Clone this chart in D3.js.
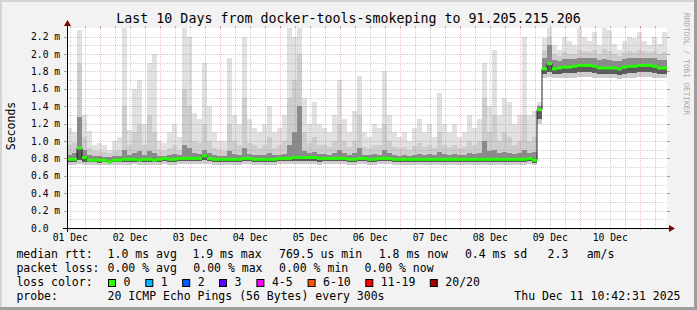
<!DOCTYPE html>
<html><head><meta charset="utf-8">
<script src="https://cdn.jsdelivr.net/npm/d3@7"></script>
<style>
html,body{margin:0;padding:0;background:#f2f2f2}
svg{display:block}
text{font-family:"DejaVu Sans Mono",monospace}
</style>
</head><body>
<svg id="c" width="697" height="310"></svg>
<script>
// ---------------- data ----------------
const chartTitle = "Last 10 Days from docker-tools-smokeping to 91.205.215.206";
const yAxisTitle = "Seconds";
const startTime = Date.UTC(2025, 11, 1, 10, 42, 31);
const endTime = Date.UTC(2025, 11, 11, 10, 42, 31);
const stepHours = 2;

// median round trip time per 2h step (ms)
const medianMs = [
  0.79,0.79,0.92,0.81,0.78,0.78,0.78,0.78,0.76,0.78,
  0.78,0.79,0.79,0.79,0.78,0.79,0.79,0.78,0.79,0.80,
  0.79,0.79,0.80,0.80,0.80,0.80,0.80,0.83,0.80,0.79,
  0.79,0.79,0.79,0.79,0.79,0.80,0.80,0.79,0.79,0.79,
  0.79,0.79,0.80,0.80,0.80,0.81,0.81,0.81,0.81,0.81,
  0.80,0.80,0.80,0.80,0.80,0.80,0.79,0.79,0.80,0.80,
  0.79,0.79,0.80,0.80,0.80,0.79,0.79,0.79,0.79,0.79,
  0.79,0.79,0.79,0.79,0.79,0.79,0.79,0.79,0.79,0.79,
  0.79,0.79,0.79,0.79,0.79,0.79,0.79,0.79,0.79,0.79,
  0.79,0.79,0.80,0.78,1.36,1.83,1.89,1.83,1.84,1.85,
  1.85,1.86,1.87,1.87,1.87,1.86,1.84,1.84,1.84,1.84,
  1.83,1.85,1.86,1.86,1.87,1.87,1.87,1.86,1.84,1.84
];
// smoke envelope (ms)
const smokeMin = [
  0.73,0.73,0.74,0.73,0.73,0.72,0.73,0.73,0.72,0.73,
  0.73,0.73,0.73,0.74,0.73,0.73,0.73,0.72,0.73,0.74,
  0.73,0.73,0.74,0.74,0.74,0.74,0.74,0.74,0.74,0.73,
  0.73,0.73,0.73,0.73,0.73,0.74,0.74,0.73,0.73,0.73,
  0.73,0.73,0.74,0.74,0.74,0.74,0.74,0.74,0.74,0.74,
  0.72,0.74,0.74,0.74,0.74,0.74,0.73,0.73,0.74,0.74,
  0.73,0.73,0.74,0.74,0.74,0.73,0.73,0.73,0.73,0.73,
  0.73,0.73,0.73,0.73,0.73,0.73,0.73,0.73,0.73,0.73,
  0.73,0.73,0.73,0.73,0.73,0.73,0.73,0.73,0.73,0.73,
  0.73,0.73,0.74,0.73,1.20,1.72,1.74,1.72,1.72,1.73,
  1.73,1.73,1.74,1.74,1.74,1.73,1.72,1.72,1.72,1.72,
  1.71,1.72,1.73,1.73,1.74,1.74,1.74,1.73,1.72,1.72
];
const smokeQ1 = [
  0.76,0.76,0.78,0.76,0.76,0.76,0.75,0.76,0.75,0.76,
  0.76,0.76,0.76,0.76,0.76,0.76,0.76,0.76,0.76,0.77,
  0.76,0.76,0.77,0.77,0.77,0.77,0.77,0.78,0.77,0.76,
  0.76,0.76,0.76,0.76,0.76,0.77,0.77,0.76,0.76,0.76,
  0.76,0.76,0.77,0.77,0.77,0.77,0.77,0.77,0.77,0.77,
  0.76,0.77,0.77,0.77,0.77,0.77,0.76,0.76,0.77,0.77,
  0.76,0.76,0.77,0.77,0.77,0.76,0.76,0.76,0.76,0.76,
  0.76,0.76,0.76,0.76,0.76,0.76,0.76,0.76,0.76,0.76,
  0.76,0.76,0.76,0.76,0.76,0.76,0.76,0.76,0.76,0.76,
  0.76,0.76,0.77,0.75,1.25,1.77,1.79,1.77,1.77,1.78,
  1.78,1.78,1.79,1.79,1.79,1.78,1.77,1.77,1.77,1.77,
  1.76,1.77,1.78,1.78,1.79,1.79,1.79,1.78,1.77,1.77
];
const smokeQ3 = [
  0.84,0.86,1.28,0.90,0.84,0.83,0.83,0.82,0.82,0.83,
  0.83,0.90,0.84,0.86,0.88,0.84,0.88,0.86,0.83,0.83,
  0.84,0.85,0.84,0.95,0.92,0.86,0.85,0.90,0.86,0.84,
  0.83,0.83,0.88,0.85,0.84,0.92,0.85,0.84,0.84,0.84,
  0.86,0.84,0.84,0.85,0.95,1.10,1.40,0.88,0.86,0.87,
  0.85,0.85,0.84,0.86,0.90,0.86,0.84,0.86,0.92,0.84,
  0.84,0.85,0.84,0.90,0.86,0.84,0.83,0.84,0.83,0.84,
  0.85,0.84,0.85,0.84,0.87,0.85,0.84,0.85,0.84,0.84,
  0.86,0.85,0.86,1.00,0.88,0.90,0.86,0.87,0.86,0.85,
  0.86,0.90,0.86,0.87,1.40,1.95,2.10,1.93,1.92,1.94,
  1.94,1.94,1.96,1.96,1.95,1.96,1.93,1.94,1.93,1.92,
  1.92,1.94,1.95,1.95,1.96,1.96,1.95,1.95,1.93,1.93
];
const smokeP90 = [
  0.95,0.98,1.90,1.05,0.92,0.88,0.88,0.87,0.86,0.88,
  0.90,1.40,0.95,1.10,1.20,0.95,1.30,1.10,0.90,0.89,
  0.92,0.95,0.90,1.60,1.40,1.00,0.98,1.20,1.00,0.92,
  0.90,0.89,1.20,1.00,0.95,1.50,0.98,0.95,0.92,0.95,
  1.05,0.92,0.95,1.00,1.50,1.70,2.00,1.10,0.98,1.05,
  0.96,0.95,0.93,1.00,1.20,1.00,0.93,1.00,1.30,0.93,
  0.92,0.95,0.95,1.20,1.00,0.93,0.92,0.93,0.90,0.94,
  0.98,0.93,0.95,0.92,1.10,0.95,0.93,0.96,0.92,0.93,
  1.00,0.95,1.00,1.50,1.10,1.30,1.00,1.10,1.05,0.95,
  1.00,1.30,1.00,1.05,1.42,2.05,2.20,2.00,1.98,2.02,
  2.00,2.00,2.05,2.04,2.02,2.05,2.00,2.06,2.04,2.00,
  1.98,2.02,2.03,2.02,2.05,2.03,2.02,2.03,2.00,2.02
];
const smokeMax = [
  1.15,1.10,2.28,1.30,1.12,0.95,0.98,0.95,0.90,1.00,
  1.05,2.30,1.13,1.60,1.70,1.20,1.90,2.00,1.00,0.98,
  1.10,1.20,1.05,2.30,2.20,1.32,1.25,1.90,1.40,1.10,
  1.00,1.00,1.95,1.30,1.20,2.20,1.25,1.15,1.10,1.20,
  1.40,1.10,1.15,1.30,2.30,2.20,2.30,1.50,1.20,1.45,
  1.20,1.15,1.10,1.30,1.70,1.25,1.10,1.35,1.75,1.10,
  1.05,1.20,1.15,1.80,1.30,1.10,1.05,1.10,1.00,1.15,
  1.25,1.10,1.20,1.05,1.55,1.20,1.10,1.20,1.05,1.10,
  1.30,1.15,1.25,1.90,1.40,2.05,1.30,1.50,1.45,1.20,
  1.30,2.20,1.30,1.35,1.45,2.18,2.30,2.10,2.05,2.20,
  2.15,2.10,2.30,2.20,2.15,2.25,2.10,2.30,2.28,2.12,
  2.05,2.15,2.20,2.18,2.25,2.15,2.10,2.20,2.12,2.25
];

const yTickValues = [0, 0.2, 0.4, 0.6, 0.8, 1.0, 1.2, 1.4, 1.6, 1.8, 2.0, 2.2];
const yTickLabels = ["0.0", "0.2 m", "0.4 m", "0.6 m", "0.8 m", "1.0 m", "1.2 m", "1.4 m", "1.6 m", "1.8 m", "2.0 m", "2.2 m"];
const xTickDays = ["2025-12-01","2025-12-02","2025-12-03","2025-12-04","2025-12-05","2025-12-06","2025-12-07","2025-12-08","2025-12-09","2025-12-10"];
const xTickLabels = ["01 Dec","02 Dec","03 Dec","04 Dec","05 Dec","06 Dec","07 Dec","08 Dec","09 Dec","10 Dec"];

const rttLabel = "median rtt:";
const rttStats = ["1.0 ms avg", "1.9 ms max", "769.5 us min", "1.8 ms now", "0.4 ms sd", "2.3", "am/s"];
const lossLabel = "packet loss:";
const lossStats = ["0.00 % avg", "0.00 % max", "0.00 % min", "0.00 % now"];
const lossColorLabel = "loss color:";
const lossBuckets = ["0", "1", "2", "3", "4-5", "6-10", "11-19", "20/20"];
const lossColors = ["#26ff00", "#00b8ff", "#0059ff", "#5e00ff", "#ff00ff", "#ff5500", "#ff0000", "#a00000"];
const probeLabel = "probe:";
const probeText = "20 ICMP Echo Pings (56 Bytes) every 300s";
const stampText = "Thu Dec 11 10:42:31 2025";
const watermark = "RRDTOOL / TOBI OETIKER";

// ---------------- layout ----------------
const W = 697, H = 310;
const X0 = 67, X1 = 667, Y0 = 228, Y1 = 28;
const rttX = [107.6, 192.4, 279, 378.7, 464.9, 547.6, 586.7];
const lossX = [107.6, 193.3, 279, 364.4];
const boxX = [108, 145.3, 182.2, 219, 256.4, 307.6, 365.3, 429.8];
const rowY = [258.3, 272, 285.8, 299.6];

const svg = d3.select("#c");
const x = d3.scaleUtc().domain([startTime, endTime]).range([X0, X1]);
const y = d3.scaleLinear().domain([0, 2.3]).range([Y0, Y1]);

// background + 3d border
svg.append("rect").attr("width", W).attr("height", H).attr("fill", "#f2f2f2");
svg.append("rect").attr("x", 0).attr("y", 0).attr("width", W).attr("height", 2).attr("fill", "#d4d4d4");
svg.append("rect").attr("x", 0).attr("y", 0).attr("width", 2).attr("height", H).attr("fill", "#d4d4d4");
svg.append("rect").attr("x", W - 3).attr("y", 0).attr("width", 3).attr("height", H).attr("fill", "#9e9e9e");
svg.append("rect").attr("x", 0).attr("y", H - 3).attr("width", W).attr("height", 3).attr("fill", "#9e9e9e");

// plot canvas
svg.append("rect").attr("x", X0).attr("y", Y1).attr("width", X1 - X0).attr("height", Y0 - Y1).attr("fill", "#fff");

const steps = medianMs.map((m, i) => ({
  t0: startTime + i * stepHours * 3600e3,
  t1: startTime + (i + 1) * stepHours * 3600e3,
  med: m, min: smokeMin[i], q1: smokeQ1[i], q3: smokeQ3[i], p90: smokeP90[i], max: smokeMax[i]
}));

const smoke = svg.append("g").attr("shape-rendering", "crispEdges");
function band(lo, hi, color) {
  smoke.append("g").selectAll("rect").data(steps).join("rect")
    .attr("x", d => Math.round(x(d.t0)))
    .attr("width", d => Math.round(x(d.t1)) - Math.round(x(d.t0)))
    .attr("y", d => Math.round(y(d[hi])))
    .attr("height", d => Math.max(0, Math.round(y(d[lo])) - Math.round(y(d[hi]))))
    .attr("fill", color);
}
band("min", "max", "#e1e1e1");
band("min", "p90", "#cdcdcd");
band("q1", "q3", "#8a8a8a");
band("q1", "med", "#5a5a5a");

// grid
const grid = svg.append("g").attr("shape-rendering", "crispEdges");
const minorCol = "rgba(140,140,140,0.4)";
const majorCol = "rgba(215,60,60,0.32)";
const minorY = d3.range(1, 23).map(v => v / 10).filter(v => Math.round(v * 10) % 2 !== 0);
minorY.forEach(v => {
  const yy = Math.round(y(v)) + 0.5;
  grid.append("line").attr("x1", X0).attr("x2", X1).attr("y1", yy).attr("y2", yy)
    .attr("stroke", minorCol).attr("stroke-dasharray", "1,1");
});
yTickValues.slice(1).forEach(v => {
  const yy = Math.round(y(v)) + 0.5;
  grid.append("line").attr("x1", X0).attr("x2", X1).attr("y1", yy).attr("y2", yy)
    .attr("stroke", majorCol).attr("stroke-dasharray", "1,1");
  grid.append("line").attr("x1", X0 - 3).attr("x2", X0).attr("y1", yy).attr("y2", yy).attr("stroke", "rgba(130,30,30,0.45)");
  grid.append("line").attr("x1", X1).attr("x2", X1 + 3).attr("y1", yy).attr("y2", yy).attr("stroke", "rgba(130,30,30,0.45)");
});
const sixHours = d3.utcHour.every(6).range(new Date(startTime), new Date(endTime));
sixHours.forEach(t => {
  const xx = Math.round(x(t)) + 0.5;
  const major = t.getUTCHours() === 0;
  grid.append("line").attr("x1", xx).attr("x2", xx).attr("y1", Y1).attr("y2", Y0)
    .attr("stroke", major ? majorCol : minorCol).attr("stroke-dasharray", "1,1");
  grid.append("line").attr("x1", xx).attr("x2", xx).attr("y1", Y0).attr("y2", Y0 + 2)
    .attr("stroke", major ? "rgba(130,30,30,0.45)" : "rgba(140,140,140,0.6)");
  grid.append("line").attr("x1", xx).attr("x2", xx).attr("y1", Y1 - 2).attr("y2", Y1)
    .attr("stroke", major ? "rgba(130,30,30,0.45)" : "rgba(140,140,140,0.6)");
});

// median line: dark step line + green loss-colored segments
const stepPts = steps.map(d => [x(d.t0), y(d.med)]);
stepPts.push([x(steps[steps.length - 1].t1), y(steps[steps.length - 1].med)]);
svg.append("path").attr("d", d3.line().curve(d3.curveStepAfter)(stepPts))
  .attr("fill", "none").attr("stroke", "#202020").attr("stroke-width", 1);
svg.append("g").selectAll("line").data(steps).join("line")
  .attr("x1", d => x(d.t0)).attr("x2", d => x(d.t1))
  .attr("y1", d => y(d.med)).attr("y2", d => y(d.med))
  .attr("stroke", lossColors[0]).attr("stroke-width", 3);

// axes
const axisG = svg.append("g").attr("shape-rendering", "crispEdges");
axisG.append("line").attr("x1", X0 - 4).attr("x2", X1 + 3).attr("y1", Y0 + 0.5).attr("y2", Y0 + 0.5).attr("stroke", "#000");
axisG.append("line").attr("x1", X0 + 0.5).attr("x2", X0 + 0.5).attr("y1", Y0 + 4).attr("y2", Y1 - 3).attr("stroke", "#000");
svg.append("path").attr("d", `M${X1 + 2},${Y0 - 3} L${X1 + 8},${Y0 + 0.5} L${X1 + 2},${Y0 + 4} Z`).attr("fill", "#7f0000");
svg.append("path").attr("d", `M${X0 - 3},${Y1 - 2} L${X0 + 0.5},${Y1 - 8} L${X0 + 4},${Y1 - 2} Z`).attr("fill", "#7f0000");

// y labels
svg.append("g").selectAll("text").data(yTickValues).join("text")
  .attr("x", 31).attr("y", v => y(v) + 3.5)
  .attr("font-size", "9.7px").attr("fill", "#000")
  .text((v, i) => yTickLabels[i]);

// x labels (centered at noon)
svg.append("g").selectAll("text").data(xTickDays).join("text")
  .attr("x", d => x(new Date(d + "T12:00:00Z")))
  .attr("y", 241).attr("text-anchor", "middle")
  .attr("font-size", "9.7px").attr("fill", "#000")
  .text((d, i) => xTickLabels[i]);

// title
svg.append("text").attr("x", W / 2).attr("y", 23).attr("text-anchor", "middle")
  .attr("font-size", "13.3px").attr("fill", "#000").text(chartTitle);

// y axis title
svg.append("text").attr("transform", "translate(15,126) rotate(-90)").attr("text-anchor", "middle")
  .attr("font-size", "11.5px").attr("fill", "#000").text(yAxisTitle);

// watermark
svg.append("text").attr("transform", "translate(684,13) rotate(90)")
  .attr("font-size", "7.7px").attr("fill", "#a8a8a8").text(watermark);

// legend
const lg = svg.append("g").attr("font-size", "11.5px").attr("fill", "#000").style("white-space", "pre");
lg.append("text").attr("x", 16.4).attr("y", rowY[0]).text(rttLabel);
rttStats.forEach((s, i) => lg.append("text").attr("x", rttX[i]).attr("y", rowY[0]).text(s));
lg.append("text").attr("x", 16.4).attr("y", rowY[1]).text(lossLabel);
lossStats.forEach((s, i) => lg.append("text").attr("x", lossX[i]).attr("y", rowY[1]).text(s));
lg.append("text").attr("x", 16.4).attr("y", rowY[2]).text(lossColorLabel);
lossBuckets.forEach((s, i) => {
  lg.append("rect").attr("x", boxX[i] + 0.5).attr("y", 279.5).attr("width", 7).attr("height", 7)
    .attr("fill", lossColors[i]).attr("stroke", "#000").attr("stroke-width", 1);
  lg.append("text").attr("x", boxX[i] + 15.5).attr("y", rowY[2]).text(s);
});
lg.append("text").attr("x", 16.4).attr("y", rowY[3]).text(probeLabel);
lg.append("text").attr("x", 107.6).attr("y", rowY[3]).text(probeText);
lg.append("text").attr("x", 680.5).attr("y", rowY[3]).attr("text-anchor", "end").text(stampText);
</script>
</body></html>
